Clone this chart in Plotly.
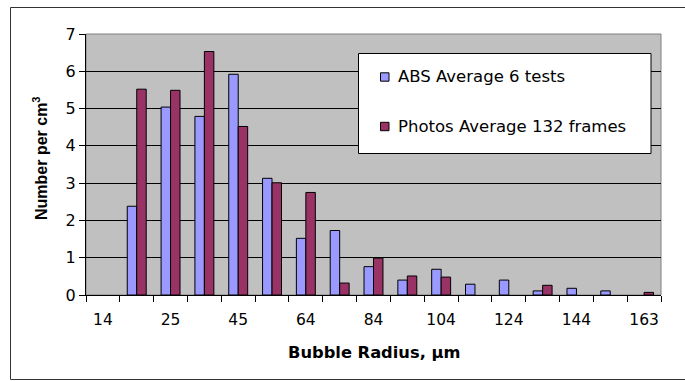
import plotly.graph_objects as go

# ---- data ----
categories = ["14", "20", "25", "35", "45", "55", "64", "74", "84",
              "94", "104", "114", "124", "134", "144", "154", "163"]
shown_labels = ["14", "25", "45", "64", "84", "104", "124", "144", "163"]
abs_avg = [0, 2.38, 5.04, 4.79, 5.92, 3.13, 1.52, 1.73, 0.76,
           0.40, 0.69, 0.29, 0.40, 0.11, 0.18, 0.11, 0]
photos_avg = [0, 5.52, 5.49, 6.53, 4.52, 3.01, 2.75, 0.32, 0.99,
              0.51, 0.48, 0, 0, 0.26, 0, 0, 0.07]
series_names = ["ABS Average 6 tests", "Photos Average 132 frames"]
series_colors = ["#9999FF", "#993366"]

W, H = 685, 381
ML, MR, MT, MB = 86, 24, 34, 86
PW, PH = W - ML - MR, H - MT - MB


def px(x):
    return (x - ML) / PW


def py(y):
    return (H - MB - y) / PH


FONT = "DejaVu Sans"
n = len(categories)
idx = list(range(n))
label_pos = [i for i, c in enumerate(categories) if c in shown_labels]
boundaries = [i - 0.5 for i in range(n + 1)]

fig = go.Figure()
for name, vals, col in zip(series_names, [abs_avg, photos_avg], series_colors):
    fig.add_trace(go.Bar(
        x=idx, y=[v if v else None for v in vals], name=name,
        marker=dict(color=col, line=dict(color="black", width=1)),
        showlegend=False, hovertext=categories,
    ))

shapes = [
    dict(type="rect", xref="paper", yref="paper",
         x0=px(10.5), x1=px(700), y0=py(379.5), y1=py(7.5),
         line=dict(color="#333333", width=1), layer="below"),
    dict(type="rect", xref="paper", yref="paper",
         x0=0, x1=1, y0=0, y1=1,
         line=dict(color="#808080", width=1), layer="below"),
    dict(type="rect", xref="paper", yref="paper",
         x0=px(358.5), x1=px(651), y0=py(153.5), y1=py(53.5),
         fillcolor="white", line=dict(color="black", width=1), layer="above"),
]
annotations = []
legend_y = [77, 126.5]
for (name, col, ly) in zip(series_names, series_colors, legend_y):
    shapes.append(dict(type="rect", xref="paper", yref="paper",
                       x0=px(380.5), x1=px(389), y0=py(ly + 4.2), y1=py(ly - 4.2),
                       fillcolor=col, line=dict(color="black", width=1), layer="above"))
    annotations.append(dict(xref="paper", yref="paper", x=px(396), y=py(ly),
                            xanchor="left", yanchor="middle", showarrow=False,
                            text=name, font=dict(family=FONT, size=16.5, color="black")))

annotations.append(dict(xref="paper", yref="paper", x=px(373.5), y=py(352),
                        xanchor="center", yanchor="middle", showarrow=False,
                        text="<b>Bubble Radius, μm</b>",
                        font=dict(family=FONT, size=16.3, color="black")))
annotations.append(dict(xref="paper", yref="paper", x=px(40), y=py(158),
                        xanchor="center", yanchor="middle", showarrow=False,
                        textangle=-90,
                        text="<b>Number per cm<sup>3</sup></b>",
                        font=dict(family="Liberation Sans", size=16, color="black")))

fig.update_layout(
    width=W, height=H,
    margin=dict(l=ML, r=MR, t=MT, b=MB, pad=0),
    paper_bgcolor="white", plot_bgcolor="#C0C0C0",
    barmode="group", bargap=0.44, bargroupgap=0,
    shapes=shapes, annotations=annotations,
    xaxis=dict(range=[-0.5, n - 0.5], tickmode="array",
               tickvals=label_pos, ticktext=shown_labels, tickangle=0,
               ticks="outside", ticklen=10, tickcolor="rgba(0,0,0,0)",
               minor=dict(tickmode="array", tickvals=boundaries, ticks="outside",
                          ticklen=6, tickcolor="black", tickwidth=1, showgrid=False),
               showline=True, linecolor="black", linewidth=1,
               showgrid=False, zeroline=False,
               tickfont=dict(family=FONT, size=15.5, color="black")),
    yaxis=dict(range=[0, 7], tick0=0, dtick=1,
               ticks="outside", ticklen=6, tickcolor="black", tickwidth=1,
               showline=True, linecolor="black", linewidth=1,
               showgrid=True, gridcolor="black", gridwidth=1, zeroline=False,
               tickfont=dict(family=FONT, size=16, color="black")),
)

fig.write_html("out.html")
